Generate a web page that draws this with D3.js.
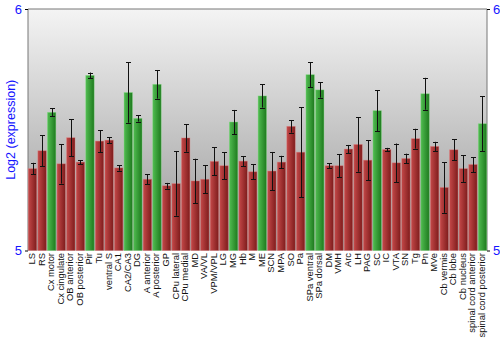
<!DOCTYPE html>
<html><head><meta charset="utf-8">
<script src="https://cdn.jsdelivr.net/npm/d3@7"></script>
<style>body{margin:0;background:#fff}</style>
</head><body><svg id="c" width="500" height="350"></svg>
<script>
const categories=["LS","RS","Cx motor","Cx cingulate","OB anterior","OB posterior","Pir","Tu","ventral S","CA1","CA2/CA3","DG","A anterior","A posterior","GP","CPu lateral","CPu medial","MD","VA/VL","VPM/VPL","LG","MG","Hb","M","ME","SCN","MPA","SO","Pa","SPa ventral","SPa dorsal","DM","VMH","Arc","LH","PAG","SC","IC","VTA","SN","Tg","Pn","MVe","Cb vermis","Cb lobe","Cb nucleus","spinal cord anterior","spinal cord posterior"];
const values=[5.339,5.413,5.572,5.359,5.467,5.366,5.725,5.453,5.457,5.342,5.654,5.547,5.295,5.688,5.268,5.277,5.466,5.288,5.295,5.369,5.351,5.532,5.370,5.326,5.640,5.329,5.366,5.514,5.407,5.728,5.665,5.351,5.351,5.420,5.439,5.374,5.579,5.418,5.363,5.381,5.463,5.649,5.431,5.261,5.417,5.339,5.356,5.525];
const errors=[0.024,0.064,0.016,0.082,0.077,0.008,0.012,0.045,0.012,0.011,0.125,0.013,0.021,0.059,0.012,0.133,0.057,0.092,0.058,0.058,0.055,0.050,0.021,0.032,0.048,0.079,0.026,0.026,0.186,0.051,0.032,0.011,0.047,0.017,0.113,0.083,0.085,0.007,0.080,0.020,0.041,0.066,0.019,0.105,0.043,0.055,0.031,0.114];
const highlighted=["Cx motor","Pir","CA2/CA3","DG","A posterior","MG","ME","SPa ventral","SPa dorsal","SC","Pn","spinal cord posterior"];
const yTicks=[5,6];
const yTitle="Log2 (expression)";

const svg=d3.select("#c");
const L=28,R=487,T=9,B=250.5;
const x=d3.scaleBand().domain(categories).range([L,R]).paddingInner(0.12).paddingOuter(0.03);
const y=d3.scaleLinear().domain([5,6]).range([B,T]);
const defs=svg.append("defs");
const bg=defs.append("linearGradient").attr("id","bg").attr("x1",0).attr("y1",0).attr("x2",0).attr("y2",1);
bg.append("stop").attr("offset","0").attr("stop-color","#f4f4f4");
bg.append("stop").attr("offset","1").attr("stop-color","#979797");
function hg(id,c1,c2){const g=defs.append("linearGradient").attr("id",id).attr("x1",0).attr("y1",0).attr("x2",1).attr("y2",0);
 g.append("stop").attr("offset","0").attr("stop-color",c1);g.append("stop").attr("offset","1").attr("stop-color",c2);}
hg("red","#c44848","#7e1c1c");
hg("green","#50bc50","#1e7a1e");

svg.append("rect").attr("x",L).attr("y",T).attr("width",R-L).attr("height",B-T).attr("fill","url(#bg)");
svg.append("path").attr("d",`M${L},${B}V${T}H${R}V${B}`).attr("fill","none").attr("stroke","#777").attr("stroke-width",1);

svg.append("g").selectAll("rect").data(categories).join("rect")
 .attr("x",d=>x(d)).attr("width",x.bandwidth())
 .attr("y",(d,i)=>y(values[i])).attr("height",(d,i)=>B-y(values[i]))
 .attr("fill",d=>highlighted.includes(d)?"url(#green)":"url(#red)")
 .attr("stroke",d=>highlighted.includes(d)?"rgba(130,220,130,0.55)":"rgba(225,125,125,0.55)").attr("stroke-width",0.7);

const eb=svg.append("g").attr("stroke","#111").attr("stroke-width",1);
categories.forEach((d,i)=>{
 const cx=Math.round(x(d)+x.bandwidth()/2)+0.5;
 const y1=y(values[i]+errors[i]),y2=y(values[i]-errors[i]);
 eb.append("line").attr("x1",cx).attr("x2",cx).attr("y1",y1).attr("y2",y2);
 eb.append("line").attr("x1",cx-2.5).attr("x2",cx+2.5).attr("y1",Math.round(y1)+0.5).attr("y2",Math.round(y1)+0.5);
 eb.append("line").attr("x1",cx-2.5).attr("x2",cx+2.5).attr("y1",Math.round(y2)+0.5).attr("y2",Math.round(y2)+0.5);
});

const la=svg.append("g").attr("transform",`translate(${L},0)`).call(d3.axisLeft(y).tickValues(yTicks).tickSize(3).tickFormat(d3.format("d")));
const ra=svg.append("g").attr("transform",`translate(${R},0)`).call(d3.axisRight(y).tickValues(yTicks).tickSize(3).tickFormat(d3.format("d")));
[la,ra].forEach(a=>{a.select(".domain").remove();a.selectAll("line").attr("stroke","#000");
 a.selectAll("text").attr("fill","#1515ff").attr("font-family","Liberation Sans, Arial, sans-serif").attr("font-size",13);});

svg.append("text").attr("transform",`translate(15,${(T+B)/2}) rotate(-90)`).attr("text-anchor","middle")
 .attr("fill","#1515ff").attr("font-family","Liberation Sans, Arial, sans-serif").attr("font-size",12.5).text(yTitle);

svg.append("g").selectAll("text").data(categories).join("text")
 .attr("transform",d=>`translate(${x(d)+x.bandwidth()/2+2.5},${B+2.5}) rotate(-90)`)
 .attr("text-anchor","end").attr("fill","#111").attr("font-family","Liberation Sans, Arial, sans-serif").attr("font-size",9.4).text(d=>d);
</script></body></html>
